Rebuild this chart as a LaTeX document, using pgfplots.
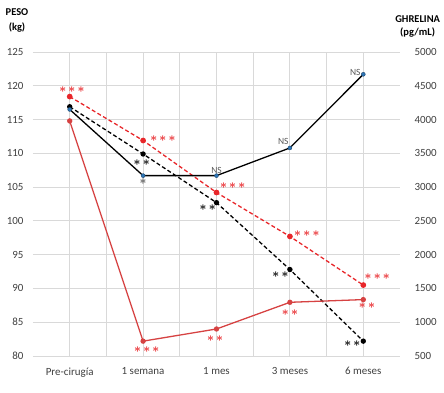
\documentclass[border=0pt]{standalone}
\usepackage{pgfplots}
\pgfplotsset{compat=1.18}
\usepackage{fontspec}
\setmainfont{Carlito}
\definecolor{rdash}{RGB}{232,38,42}
\definecolor{rsolid}{RGB}{214,66,66}
\definecolor{mblue}{RGB}{46,117,182}
\definecolor{gridc}{RGB}{217,217,217}
\definecolor{tickc}{RGB}{64,64,64}
\definecolor{nsc}{RGB}{89,89,89}
\newcommand{\three}{${\ast}\,{\ast}\,{\ast}$}
\newcommand{\two}{${\ast}\,{\ast}$}
\newcommand{\one}{${\ast}$}
\tikzset{ann/.style={font=\fontsize{12}{12}\selectfont\bfseries\boldmath, inner sep=0pt}}
\begin{document}
\begin{tikzpicture}
\pgfplotsset{
  common/.style={scale only axis, width=367bp, height=304bp,
    xmin=-0.5, xmax=4.5, axis line style={draw=none},
    major tick length=0pt, minor tick length=0pt,
    /pgf/number format/assume math mode=true,
    /pgf/number format/1000 sep={},
    ticklabel style={font=\fontsize{11}{12}\selectfont, text=tickc},
    clip=false},
}
\begin{axis}[common, name=ax,
  ymin=80, ymax=125, ytick={80,85,...,125},
  xtick={0,...,4},
  xticklabels={Pre-cirugía,1 semana,1 mes,3 meses,6 meses},
  minor xtick={0.5,1.5,2.5,3.5},
  grid=both,
  major grid style={gridc, line width=0.9pt},
  minor grid style={gridc, line width=0.9pt},
  yticklabel style={anchor=east, xshift=-6bp},
  xticklabel style={anchor=north, yshift=-8bp},
]
\addplot[rdash, line width=1.3pt, dash pattern=on 4pt off 2.5pt,
  mark=*, mark size=2.2pt, mark options={solid, fill=rdash, draw=rdash}]
  coordinates {(0,118.4) (1,111.9) (2,104.2) (3,97.7) (4,90.5)};
\addplot[black, line width=1.3pt, dash pattern=on 4pt off 2.5pt,
  mark=*, mark size=2.0pt, mark options={solid, fill=black}]
  coordinates {(0,116.9) (1,109.9) (2,102.7) (3,92.8) (4,82.2)};
% annotations
\node[ann, text=rdash] at (axis cs:0.03,119.4) {\three};
\node[ann, text=rdash] at (axis cs:1.27,112.1) {\three};
\node[ann, text=black] at (axis cs:0.98,108.6) {\two};
\node[ann, text=nsc] at (axis cs:1.0,105.8) {\one};
\node[ann, text=nsc, font=\fontsize{9.5}{10}\selectfont] at (axis cs:2.0,107.5) {NS};
\node[ann, text=rdash] at (axis cs:2.22,105.2) {\three};
\node[ann, text=black] at (axis cs:1.88,101.9) {\two};
\node[ann, text=nsc, font=\fontsize{9.5}{10}\selectfont] at (axis cs:2.91,111.7) {NS};
\node[ann, text=nsc, font=\fontsize{9.5}{10}\selectfont] at (axis cs:3.89,121.9) {NS};
\node[ann, text=rdash] at (axis cs:3.23,98.1) {\three};
\node[ann, text=black] at (axis cs:2.87,92.0) {\two};
\node[ann, text=rdash] at (axis cs:4.19,91.7) {\three};
\node[ann, text=rdash] at (axis cs:4.05,87.4) {\two};
\node[ann, text=rdash] at (axis cs:3.0,86.4) {\two};
\node[ann, text=rdash] at (axis cs:1.98,82.5) {\two};
\node[ann, text=rdash] at (axis cs:1.05,81.0) {\three};
\node[ann, text=black] at (axis cs:3.85,81.8) {\two};
\end{axis}
\begin{axis}[common,
  ymin=500, ymax=5000, ytick={500,1000,...,5000},
  xtick=\empty, axis y line*=right, axis x line=none,
  yticklabel style={anchor=west, xshift=11bp},
]
\addplot[black, line width=1.3pt,
  mark=*, mark size=2.0pt, mark options={fill=mblue, draw=mblue!60!black, line width=0.4pt}]
  coordinates {(0,4150) (1,3170) (2,3170) (3,3580) (4,4670)};
\addplot[rsolid, line width=1.3pt,
  mark=*, mark size=2.0pt, mark options={fill=rsolid, draw=rsolid}]
  coordinates {(0,3980) (1,720) (2,900) (3,1295) (4,1335)};
\end{axis}
\node[font=\fontsize{10.5}{15}\selectfont\bfseries, align=center, text=black]
  at ([xshift=-16bp, yshift=32bp]ax.north west) {PESO\\(kg)};
\node[font=\fontsize{10.5}{13}\selectfont\bfseries, align=center, text=black, anchor=east]
  at ([xshift=43.5bp, yshift=26bp]ax.north east) {GHRELINA\\(pg/mL)};
\pgfresetboundingbox
\useasboundingbox ([xshift=-33bp,yshift=-36bp]ax.south west) rectangle ([xshift=44bp,yshift=52bp]ax.north east);
\end{tikzpicture}
\end{document}
